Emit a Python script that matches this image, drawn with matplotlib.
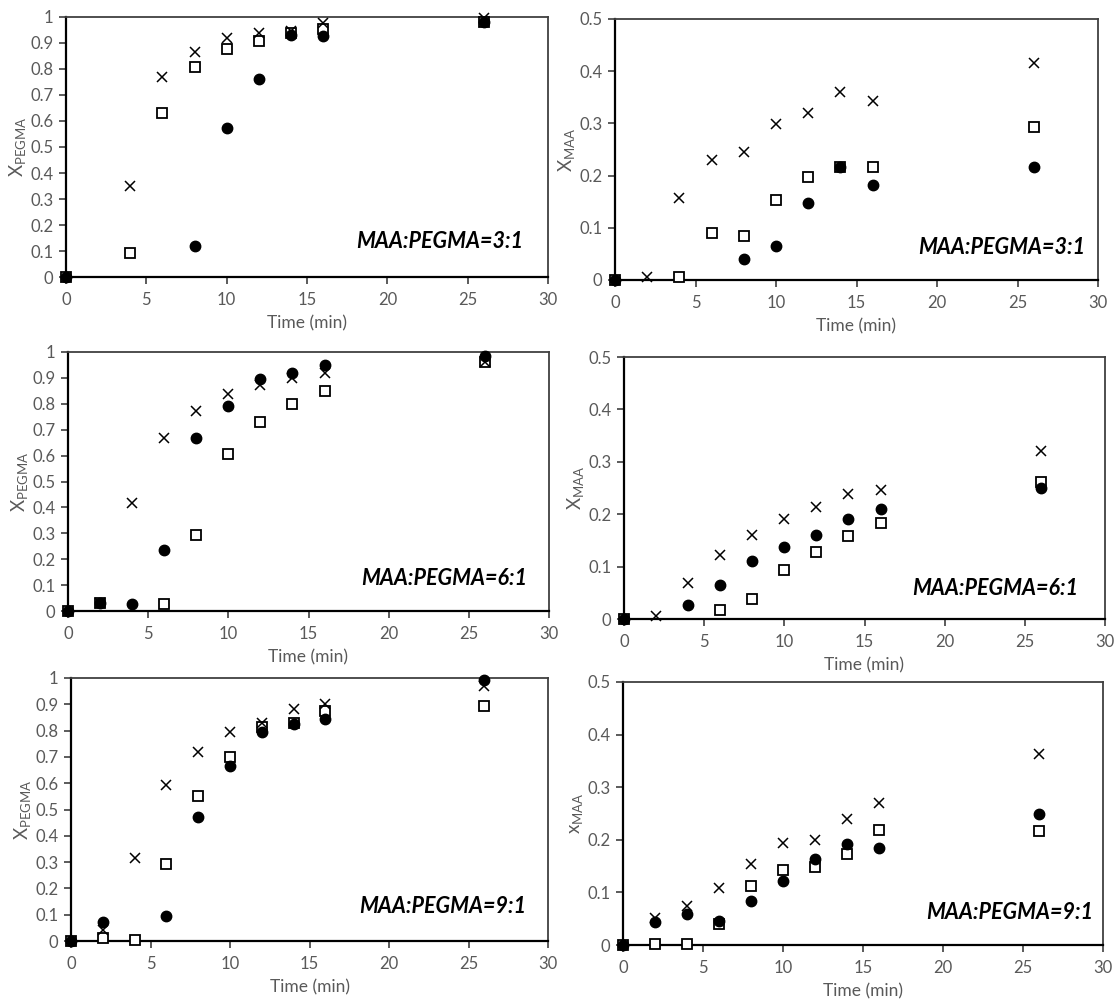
import numpy as np
import matplotlib
matplotlib.use("Agg")
import matplotlib.pyplot as plt
from matplotlib.ticker import FuncFormatter, MultipleLocator

plt.rcParams['font.family'] = ['Lato', 'DejaVu Sans']

nan = np.nan
time = [0, 2, 4, 6, 8, 10, 12, 14, 16, 26]

# MAA:PEGMA = 3:1
pegma31_circle = [0, nan, nan, nan, 0.119, 0.572, 0.763, 0.93, 0.925, 0.98]
pegma31_square = [0, nan, 0.092, 0.632, 0.806, 0.877, 0.906, 0.94, 0.955, 0.98]
pegma31_cross = [nan, nan, 0.35, 0.768, 0.865, 0.92, 0.94, 0.945, 0.975, 0.995]
maa31_circle = [0, nan, nan, nan, 0.041, 0.065, 0.148, 0.217, 0.182, 0.216]
maa31_square = [0, nan, 0.006, 0.09, 0.085, 0.154, 0.198, 0.217, 0.216, 0.293]
maa31_cross = [nan, 0.005, 0.158, 0.23, 0.245, 0.299, 0.319, 0.361, 0.342, 0.416]

# MAA:PEGMA = 6:1
pegma61_circle = [0, 0.03, 0.026, 0.236, 0.668, 0.79, 0.897, 0.92, 0.95, 0.985]
pegma61_square = [0, 0.03, nan, 0.026, 0.295, 0.607, 0.728, 0.80, 0.848, 0.96]
pegma61_cross = [nan, 0.03, 0.416, 0.667, 0.772, 0.837, 0.874, 0.898, 0.92, 0.96]
maa61_circle = [0, nan, 0.027, 0.065, 0.11, 0.138, 0.161, 0.19, 0.209, 0.25]
maa61_square = [0, nan, nan, 0.018, 0.038, 0.094, 0.127, 0.159, 0.184, 0.261]
maa61_cross = [nan, 0.006, 0.068, 0.122, 0.16, 0.19, 0.214, 0.238, 0.246, 0.32]

# MAA:PEGMA = 9:1
pegma91_circle = [0, 0.072, nan, 0.095, 0.473, 0.666, 0.793, 0.826, 0.845, 0.994]
pegma91_square = [0, 0.013, 0.003, 0.293, 0.553, 0.70, 0.812, 0.83, 0.873, 0.892]
pegma91_cross = [nan, 0.042, 0.317, 0.595, 0.72, 0.796, 0.83, 0.882, 0.9, 0.968]
maa91_circle = [0, 0.043, 0.058, 0.045, 0.084, 0.122, 0.164, 0.192, 0.185, 0.25]
maa91_square = [0, 0.001, 0.001, 0.039, 0.113, 0.143, 0.149, 0.173, 0.218, 0.217]
maa91_cross = [nan, 0.051, 0.075, 0.108, 0.154, 0.194, 0.2, 0.24, 0.27, 0.363]

ratio_labels = ["MAA:PEGMA=3:1", "MAA:PEGMA=6:1", "MAA:PEGMA=9:1"]
xlabel = "Time (min)"

W, H = 1118, 1008
fig = plt.figure(figsize=(W / 100, H / 100), dpi=100)
fig.patch.set_facecolor('white')

# pixel boxes: (left, right, top, bottom)
boxes = [
    (66, 548, 17, 277), (615, 1098, 19, 280),
    (68, 549, 352, 611), (624, 1105, 357, 619),
    (71, 548, 678, 941), (623, 1103, 682, 945),
]
label_pos = [(0.948, 0.135), (0.973, 0.126), (0.954, 0.127),
             (0.944, 0.115), (0.954, 0.133), (0.979, 0.125)]

panels = [
    (pegma31_circle, pegma31_square, pegma31_cross, 'PEGMA', 1.0, 0),
    (maa31_circle, maa31_square, maa31_cross, 'MAA', 0.5, 0),
    (pegma61_circle, pegma61_square, pegma61_cross, 'PEGMA', 1.0, 1),
    (maa61_circle, maa61_square, maa61_cross, 'MAA', 0.5, 1),
    (pegma91_circle, pegma91_square, pegma91_cross, 'PEGMA', 1.0, 2),
    (maa91_circle, maa91_square, maa91_cross, 'MAA', 0.5, 2),
]

gray = '#595959'
fmt = FuncFormatter(lambda v, p: ('%g' % round(v, 2)))

for i, (circ, sq, cr, mono, ymax, r) in enumerate(panels):
    l, rr, t, b = boxes[i]
    ax = fig.add_axes([l / W, 1 - b / H, (rr - l) / W, (b - t) / H])
    ax.plot(time, sq, ls='none', marker='s', ms=7, mfc='white', mec='black',
            mew=1.3, clip_on=False, zorder=3)
    ax.plot(time, cr, ls='none', marker='x', ms=7, mec='black',
            mew=1.1, clip_on=False, zorder=4)
    ax.plot(time, circ, ls='none', marker='o', ms=7.5, mfc='black', mec='black',
            clip_on=False, zorder=5)
    ax.set_xlim(0, 30)
    ax.set_ylim(0, ymax)
    ax.xaxis.set_major_locator(MultipleLocator(5))
    ax.yaxis.set_major_locator(MultipleLocator(0.1))
    ax.yaxis.set_major_formatter(fmt)
    ax.tick_params(axis='both', direction='out', length=5, width=1.2,
                   labelsize=12, labelcolor=gray, color='#404040')
    ax.tick_params(axis='x', pad=6)
    ax.tick_params(axis='y', pad=4)
    for s in ['top', 'right']:
        ax.spines[s].set_color('#404040')
        ax.spines[s].set_linewidth(1.3)
    for s in ['left', 'bottom']:
        ax.spines[s].set_color('black')
        ax.spines[s].set_linewidth(1.6)
    ax.set_xlabel(xlabel, fontsize=12.5, color=gray, labelpad=5)
    xsym = 'x' if i == 5 else 'X'
    ax.set_ylabel(xsym + r'$_\mathregular{' + mono + '}$', fontsize=13.5,
                  color=gray, labelpad=1)
    lx, ly = label_pos[i]
    ax.text(lx, ly, ratio_labels[r], transform=ax.transAxes, ha='right',
            va='center', fontsize=15.5, fontweight='bold', fontstyle='italic',
            color='black')

fig.savefig('out.png', dpi=100, facecolor='white')
